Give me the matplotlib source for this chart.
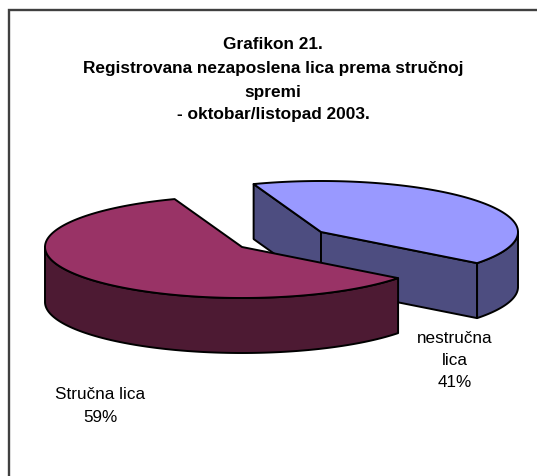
import numpy as np
import matplotlib
matplotlib.use("Agg")
import matplotlib.pyplot as plt
from matplotlib.patches import Polygon

plt.rcParams['font.family'] = ['Liberation Sans', 'DejaVu Sans']

# data
categories = ["Stručna lica", "nestručna\nlica"]
values = [59, 41]
percent_labels = ["59%", "41%"]
title_lines = ["Grafikon 21.", "Registrovana nezaposlena lica prema stručnoj",
               "spremi", "- oktobar/listopad 2003."]

# style / geometry
W, H = 537, 476
RX, RY, DEPTH = 197, 51, 55
START_ANGLE = 110
centers = {"red": (242, 247), "blue": (321, 232)}
EDGE = dict(edgecolor="black", linewidth=1.4, joinstyle="round")

fig = plt.figure(figsize=(W / 100, H / 100), dpi=100)
ax = fig.add_axes([0, 0, 1, 1])
ax.set_xlim(0, W)
ax.set_ylim(H, 0)
ax.axis("off")

def rim(c, a0, a1, n=200):
    t = np.radians(np.linspace(a0, a1, n))
    return np.column_stack([c[0] + RX * np.cos(t), c[1] - RY * np.sin(t)])

def down(pts):
    return pts + np.array([0, DEPTH])

blue_span = 360 * values[1] / sum(values)
blue_end = START_ANGLE - blue_span

# nestručna lica (rear slice)
cb = np.array(centers["blue"], float)
blue_side, blue_top = "#4D4D80", "#9999FF"
rb = rim(cb, START_ANGLE, blue_end)
ax.add_patch(Polygon(np.vstack([rb[0], cb, down(cb[None])[0], down(rb[:1])[0]]),
                     facecolor=blue_side, zorder=1, **EDGE))
ax.add_patch(Polygon(np.vstack([cb, rb[-1], down(rb[-1:])[0], down(cb[None])[0]]),
                     facecolor=blue_side, zorder=1, **EDGE))
outer = rim(cb, 0, blue_end)
ax.add_patch(Polygon(np.vstack([outer, down(outer)[::-1]]),
                     facecolor=blue_side, zorder=1, **EDGE))
ax.add_patch(Polygon(np.vstack([cb, rb]), facecolor=blue_top, zorder=2, **EDGE))

# stručna lica (front slice)
cr = np.array(centers["red"], float)
red_side, red_top = "#4D1A33", "#993366"
outer = rim(cr, 180, 360 + blue_end)
ax.add_patch(Polygon(np.vstack([outer, down(outer)[::-1]]),
                     facecolor=red_side, zorder=3, **EDGE))
rr = rim(cr, START_ANGLE, 360 + blue_end)
ax.add_patch(Polygon(np.vstack([cr, rr]), facecolor=red_top, zorder=4, **EDGE))

# frame (only top and left visible in the crop)
ax.plot([9, 9, W], [H, 9.5, 9.5], color="#404040", lw=1.7, solid_joinstyle="miter",
        zorder=5)

# title
for line, y in zip(title_lines, [44.5, 68, 92, 115]):
    ax.text(273, y, line, ha="center", va="center", fontsize=12.4,
            fontweight="bold", color="black")

# labels
ax.text(100, 406, categories[0] + "\n" + percent_labels[0], ha="center", va="center",
        fontsize=12.3, linespacing=1.62, color="black")
ax.text(455, 360.5, categories[1] + "\n" + percent_labels[1], ha="center", va="center",
        fontsize=12.3, linespacing=1.6, color="black")

fig.savefig("out.png", dpi=100, facecolor="white")
